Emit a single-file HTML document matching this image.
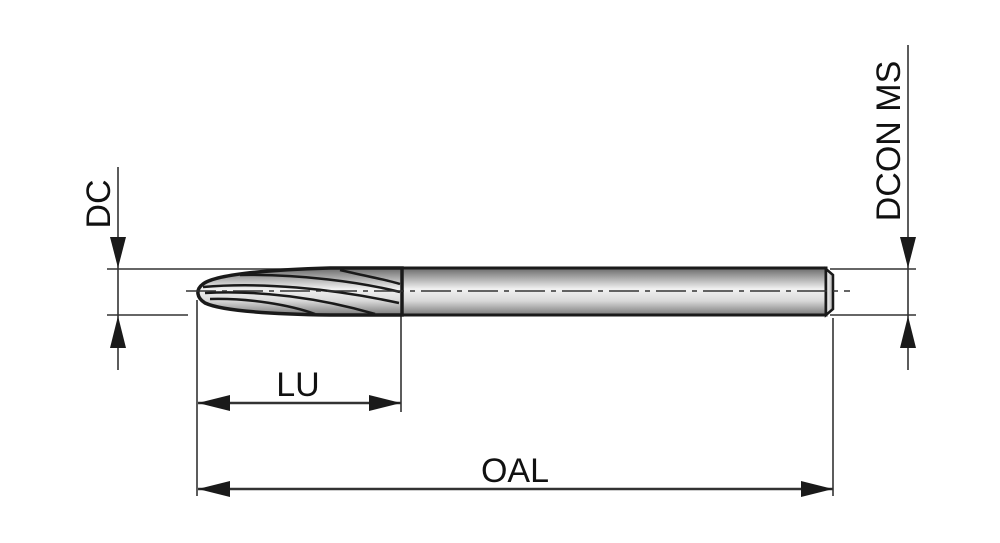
<!DOCTYPE html>
<html><head><style>body{margin:0;background:#fff}svg{display:block}</style></head><body>
<svg width="1000" height="543" viewBox="0 0 1000 543" xmlns="http://www.w3.org/2000/svg">
<defs>
<linearGradient id="g" x1="0" y1="0" x2="0" y2="1">
<stop offset="0" stop-color="#6a6a6a"/><stop offset="0.45" stop-color="#f2f2f2"/><stop offset="0.7" stop-color="#d8d8d8"/><stop offset="1" stop-color="#7a7a7a"/>
</linearGradient>
<linearGradient id="g2" x1="0" y1="0" x2="1" y2="0">
<stop offset="0" stop-color="#fff"/><stop offset="0.6" stop-color="#cfcfcf"/><stop offset="1" stop-color="#9a9a9a"/>
</linearGradient>
</defs>
<g stroke="#333" stroke-width="1.6" fill="none">
<line x1="107" y1="269" x2="400" y2="269"/>
<line x1="107" y1="315" x2="188" y2="315"/>
<line x1="830" y1="269" x2="916" y2="269"/>
<line x1="830" y1="315" x2="916" y2="315"/>
<line x1="118" y1="167" x2="118" y2="370"/>
<line x1="908" y1="45" x2="908" y2="370"/>
<line x1="197" y1="300" x2="197" y2="496"/>
<line x1="401" y1="315" x2="401" y2="412"/>
<line x1="833" y1="318" x2="833" y2="496"/>
<line x1="198" y1="403" x2="401" y2="403" stroke-width="2.4"/>
<line x1="198" y1="489" x2="833" y2="489" stroke-width="2.4"/>
</g>
<g fill="#1a1a1a">
<polygon points="118,268 110,237 126,237"/>
<polygon points="118,316 110,348 126,348"/>
<polygon points="908,268 900,237 916,237"/>
<polygon points="908,316 900,348 916,348"/>
<polygon points="198,403 230,395 230,411"/>
<polygon points="401,403 369,395 369,411"/>
<polygon points="198,489 230,481 230,497"/>
<polygon points="833,489 801,481 801,497"/>
</g>
<rect x="402" y="268" width="424" height="47" fill="url(#g)" stroke="#1a1a1a" stroke-width="3"/>
<path d="M826,269 L833,275 L833,309 L826,315 Z" fill="url(#g2)" stroke="#1a1a1a" stroke-width="2.5"/>
<path d="M402,268 L330,268 C260,270 215,275 203,284 C195,290 197,298 205,303 C220,310 260,314 330,315 L402,315 Z" fill="url(#g)" stroke="#1a1a1a" stroke-width="3.5"/>
<g stroke="#1a1a1a" stroke-width="2.5" fill="none">
<path d="M203,287 C260,282 330,288 399,303"/>
<path d="M205,293 C260,290 320,298 375,314"/>
<path d="M210,299 C250,298 290,305 315,314"/>
<path d="M240,275 C300,274 360,282 400,292"/>
<path d="M340,270 C365,276 388,280 400,284"/>
</g>
<line x1="186" y1="291" x2="850" y2="291" stroke="#333" stroke-width="1.5" stroke-dasharray="30,6,5,6"/>
<g font-family="Liberation Sans, sans-serif" font-size="34" fill="#111">
<text x="298" y="396" text-anchor="middle">LU</text>
<text x="515" y="482" text-anchor="middle">OAL</text>
<text transform="translate(110,204) rotate(-90)" text-anchor="middle">DC</text>
<text transform="translate(900,141) rotate(-90)" text-anchor="middle">DCON MS</text>
</g>
</svg>
</body></html>
